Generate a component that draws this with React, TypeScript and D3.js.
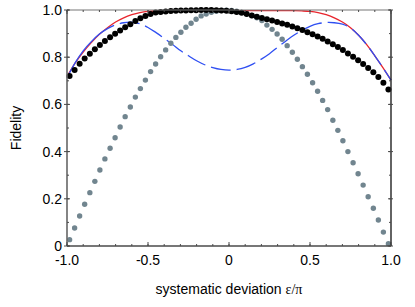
import React from "react";
import * as d3 from "d3";

// sample positions (epsilon / pi) of the dotted series
const dotEps = [
  -0.984, -0.953, -0.922, -0.891, -0.859, -0.828, -0.797, -0.766, -0.734, -0.703, -0.672, -0.641, -0.609, -0.578, -0.547, -0.516,
  -0.484, -0.453, -0.422, -0.391, -0.359, -0.328, -0.297, -0.266, -0.234, -0.203, -0.172, -0.141, -0.109, -0.078, -0.047, -0.016,
  0.016, 0.047, 0.078, 0.109, 0.141, 0.172, 0.203, 0.234, 0.266, 0.297, 0.328, 0.359, 0.391, 0.422, 0.453, 0.484,
  0.516, 0.547, 0.578, 0.609, 0.641, 0.672, 0.703, 0.734, 0.766, 0.797, 0.828, 0.859, 0.891, 0.922, 0.953, 0.984,
];

const grayDots = [
  0.027, 0.076, 0.127, 0.177, 0.226, 0.274, 0.322, 0.369, 0.414, 0.459, 0.504, 0.548, 0.589, 0.631, 0.667, 0.703,
  0.739, 0.771, 0.802, 0.831, 0.859, 0.884, 0.906, 0.927, 0.944, 0.961, 0.975, 0.983, 0.990, 0.995, 0.998, 0.999,
  0.998, 0.995, 0.990, 0.984, 0.977, 0.967, 0.955, 0.936, 0.918, 0.898, 0.876, 0.849, 0.821, 0.791, 0.760, 0.728,
  0.692, 0.656, 0.617, 0.578, 0.533, 0.490, 0.446, 0.400, 0.353, 0.306, 0.258, 0.209, 0.160, 0.110, 0.059, 0.010,
];

const blackDots = [
  0.720, 0.746, 0.772, 0.795, 0.815, 0.834, 0.852, 0.869, 0.885, 0.899, 0.913, 0.927, 0.940, 0.953, 0.965, 0.975,
  0.983, 0.989, 0.992, 0.994, 0.996, 0.997, 0.998, 0.998, 0.999, 0.999, 1.000, 1.000, 1.000, 0.999, 0.998, 0.997,
  0.995, 0.992, 0.988, 0.983, 0.977, 0.971, 0.966, 0.961, 0.955, 0.949, 0.943, 0.937, 0.930, 0.923, 0.915, 0.906,
  0.897, 0.888, 0.878, 0.867, 0.855, 0.843, 0.830, 0.816, 0.802, 0.787, 0.771, 0.754, 0.736, 0.716, 0.692, 0.663,
];

// sample positions of the curves
const lineEps = [
  -1, -0.95, -0.9, -0.85, -0.8, -0.75, -0.7, -0.65, -0.6, -0.55, -0.5, -0.45, -0.4, -0.35, -0.3, -0.25, -0.2, -0.15, -0.1, -0.05,
  0, 0.05, 0.1, 0.15, 0.2, 0.25, 0.3, 0.35, 0.4, 0.45, 0.5, 0.55, 0.6, 0.65, 0.7, 0.75, 0.8, 0.85, 0.9, 0.95, 1,
];

const redLine = [
  0.718, 0.775, 0.822, 0.862, 0.897, 0.925, 0.949, 0.967, 0.980, 0.989, 0.994, 0.996, 0.997, 0.997, 0.997, 0.997, 0.997, 0.997, 0.997, 0.997,
  0.997, 0.997, 0.997, 0.997, 0.997, 0.997, 0.997, 0.997, 0.997, 0.996, 0.994, 0.989, 0.980, 0.967, 0.949, 0.925, 0.893, 0.853, 0.806, 0.756, 0.703,
];

const blueLine = [
  0.712, 0.776, 0.827, 0.866, 0.898, 0.921, 0.937, 0.946, 0.948, 0.942, 0.926, 0.904, 0.880, 0.855, 0.828, 0.806, 0.785, 0.768, 0.756, 0.748,
  0.745, 0.748, 0.757, 0.772, 0.792, 0.815, 0.842, 0.868, 0.893, 0.914, 0.931, 0.942, 0.947, 0.946, 0.940, 0.924, 0.893, 0.853, 0.806, 0.756, 0.703,
];

const yTickLabels = ["0", "0.2", "0.4", "0.6", "0.8", "1.0"];
const yTickValues = [0, 0.2, 0.4, 0.6, 0.8, 1.0];
const xTickLabels = ["-1.0", "-0.5", "0", "0.5", "1.0"];
const xTickValues = [-1, -0.5, 0, 0.5, 1];

const W = 415;
const H = 307;
const left = 67;
const right = 391;
const top = 10;
const bottom = 246;

export default function App() {
  const x = d3.scaleLinear().domain([-1, 1]).range([left, right]);
  const y = d3.scaleLinear().domain([0, 1]).range([bottom, top]);

  const line = d3
    .line<number>()
    .x((_, i) => x(lineEps[i]))
    .y((d) => y(d))
    .curve(d3.curveCatmullRom.alpha(0.5));

  const xMinor = d3.range(-10, 11).map((i) => i / 10);
  const yMinor = d3.range(0, 11).map((i) => i / 10);

  let dash = "72,6";
  for (let i = 0; i < 30; i++) dash += ",20,6";

  const font = "'Liberation Sans', Arial, Helvetica, sans-serif";
  const axisColor = "#4a4a4a";

  return (
    <svg width={W} height={H} style={{ position: "absolute", left: 0, top: 0, background: "#fff" }}>
      {/* curves */}
      <path d={line(redLine) || ""} fill="none" stroke="#e8242c" strokeWidth={1.3} />
      <path d={line(blueLine) || ""} fill="none" stroke="#2f4ff2" strokeWidth={1.3} strokeDasharray={dash} />

      {/* gray dots */}
      {grayDots.map((v, i) => (
        <circle key={"g" + i} cx={x(dotEps[i])} cy={y(v)} r={2.7} fill="#71858f" />
      ))}
      {/* black dots */}
      {blackDots.map((v, i) => (
        <circle key={"b" + i} cx={x(dotEps[i])} cy={y(v)} r={3} fill="#000" />
      ))}

      {/* frame */}
      <line x1={left} x2={right} y1={top} y2={top} stroke="#777" strokeWidth={1.2} />
      <line x1={left} x2={right} y1={bottom} y2={bottom} stroke={axisColor} strokeWidth={1.4} />
      <line x1={left} x2={left} y1={top} y2={bottom} stroke="#666" strokeWidth={1.6} />
      <line x1={right} x2={right} y1={top} y2={bottom} stroke="#222" strokeWidth={1.4} />

      {/* x ticks */}
      {xMinor.map((t) => (
        <g key={"xm" + t}>
          <line x1={x(t)} x2={x(t)} y1={bottom} y2={bottom - 2} stroke={axisColor} />
          <line x1={x(t)} x2={x(t)} y1={top} y2={top + 2} stroke={axisColor} />
        </g>
      ))}
      {xTickValues.map((t) => (
        <g key={"xM" + t}>
          <line x1={x(t)} x2={x(t)} y1={bottom} y2={bottom - 4} stroke={axisColor} />
          <line x1={x(t)} x2={x(t)} y1={top} y2={top + 4} stroke={axisColor} />
        </g>
      ))}
      {/* y ticks */}
      {yMinor.map((t) => (
        <g key={"ym" + t}>
          <line x1={left} x2={left + 2} y1={y(t)} y2={y(t)} stroke={axisColor} />
          <line x1={right} x2={right - 2} y1={y(t)} y2={y(t)} stroke={axisColor} />
        </g>
      ))}
      {yTickValues.map((t) => (
        <g key={"yM" + t}>
          <line x1={left - 3} x2={left + 3} y1={y(t)} y2={y(t)} stroke={axisColor} />
          <line x1={right - 3} x2={right + 2} y1={y(t)} y2={y(t)} stroke={axisColor} />
        </g>
      ))}

      {/* tick labels */}
      {yTickValues.map((t, i) => (
        <text key={"yl" + t} x={62} y={y(t) + 5} textAnchor="end" fontFamily={font} fontSize={14} fill="#000">
          {yTickLabels[i]}
        </text>
      ))}
      {xTickValues.map((t, i) => (
        <text key={"xl" + t} x={x(t)} y={265} textAnchor="middle" fontFamily={font} fontSize={14} fill="#000">
          {xTickLabels[i]}
        </text>
      ))}

      {/* axis titles */}
      <text x={(left + right) / 2} y={294} textAnchor="middle" fontFamily={font} fontSize={14} fill="#000">
        systematic deviation{" "}
        <tspan fontFamily="'Liberation Serif', 'Times New Roman', serif">ε/π</tspan>
      </text>
      <text
        transform={`translate(21, ${(top + bottom) / 2}) rotate(-90)`}
        textAnchor="middle"
        fontFamily={font}
        fontSize={14}
        fill="#000"
      >
        Fidelity
      </text>
    </svg>
  );
}
